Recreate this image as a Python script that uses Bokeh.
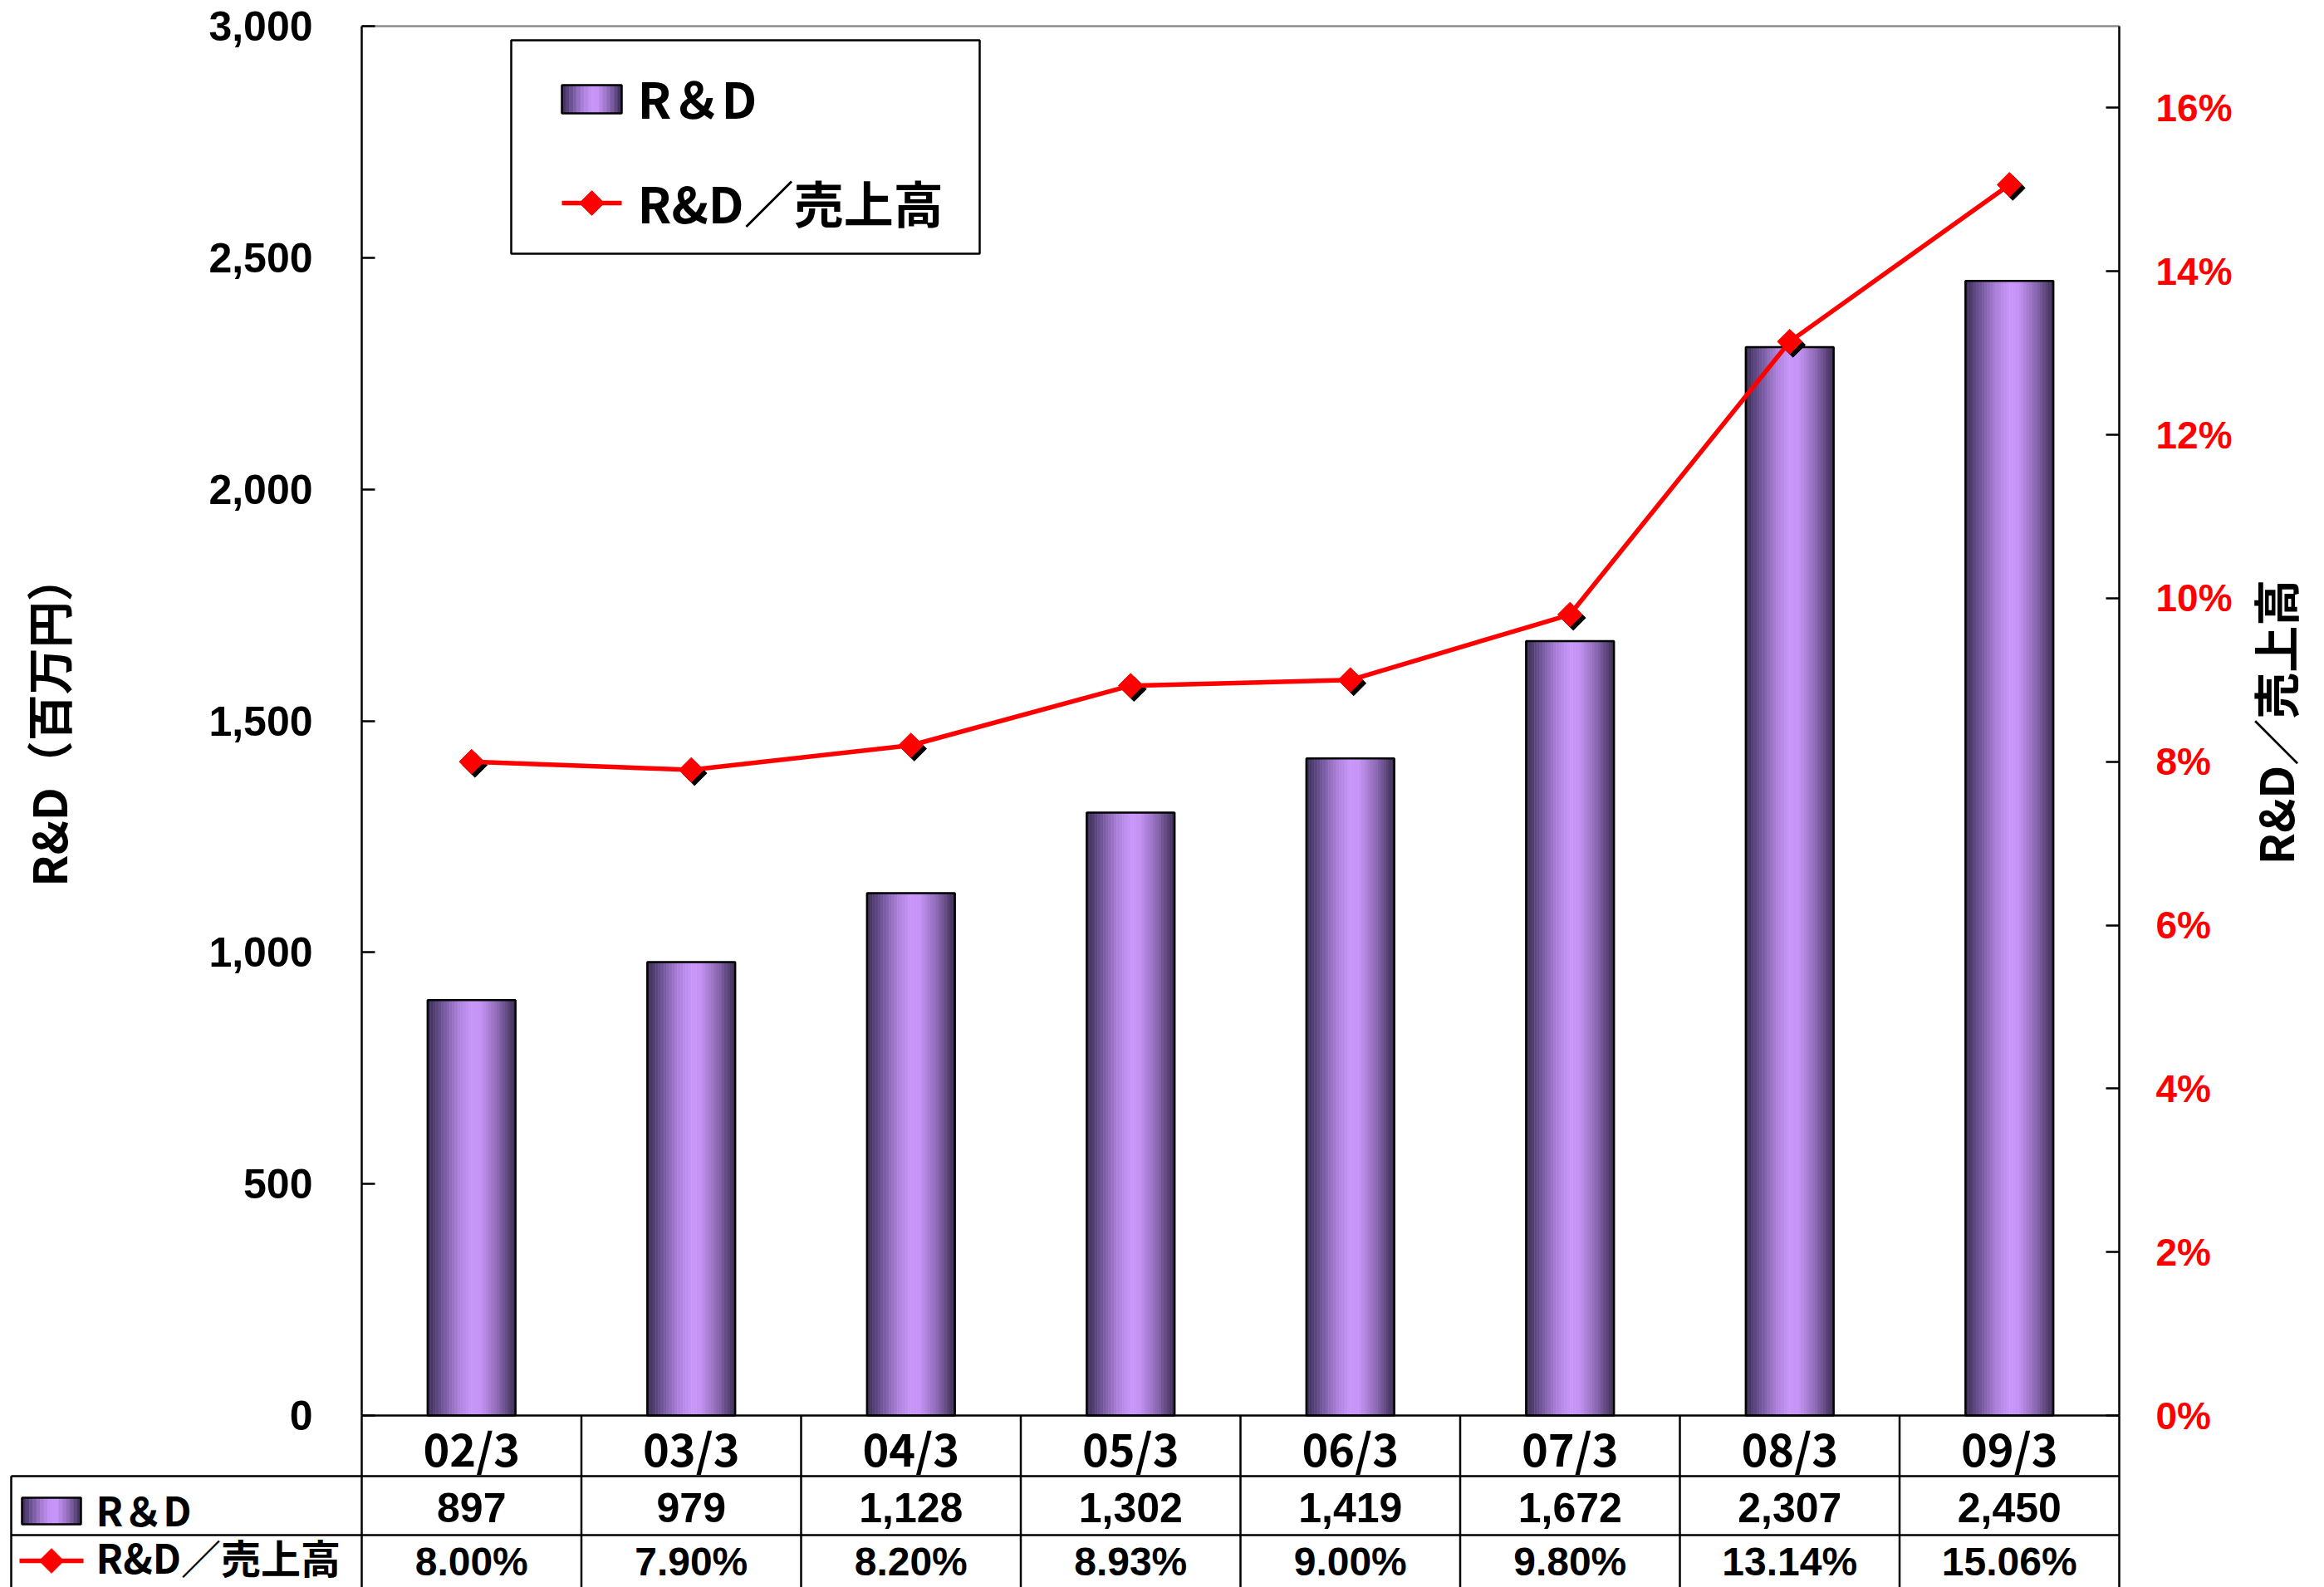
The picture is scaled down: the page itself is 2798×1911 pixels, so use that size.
import math
from bokeh.plotting import figure
from bokeh.models import Range1d, LinearAxis, FixedTicker, NumeralTickFormatter
from bokeh.core.properties import value
from bokeh.embed import file_html
from bokeh.resources import INLINE

# ---------------- data ----------------
categories = ["02/3", "03/3", "04/3", "05/3", "06/3", "07/3", "08/3", "09/3"]
rd_values = [897, 979, 1128, 1302, 1419, 1672, 2307, 2450]          # 百万円
rd_ratio_pct = [8.00, 7.90, 8.20, 8.93, 9.00, 9.80, 13.14, 15.06]   # %
left_ticks = [0, 500, 1000, 1500, 2000, 2500, 3000]
right_ticks_pct = [0, 2, 4, 6, 8, 10, 12, 14, 16]
legend_labels = ["R＆D", "R&D／売上高"]
table_row_labels = ["R＆D", "R&D／売上高"]
left_title = "R&D（百万円）"
right_title = "R&D／売上高"

# ---------------- layout (page pixels) ----------------
OFF = 0
FIG_W, FIG_H = 2798, 1911
AX_L, AX_R = 435, 2551
Y_BASE, Y_TOP = 1704, 31
LEFT_MAX, RIGHT_MAX = 3000.0, 0.17
TABLE_X0 = 13
ROW_Y = [1704, 1777, 1848, 1960]
N = len(categories)
COL_W = (AX_R - AX_L) / N
PX_PER_UNIT = (Y_BASE - Y_TOP) / LEFT_MAX


def xd(X):
    return (X - AX_L) / COL_W - 0.5


def yd(Y):
    return (Y_BASE - Y) / PX_PER_UNIT


K = RIGHT_MAX / LEFT_MAX

p = figure(width=FIG_W, height=FIG_H,
           x_range=Range1d(xd(OFF), xd(OFF + FIG_W)),
           y_range=Range1d(yd(OFF + FIG_H), yd(OFF)),
           output_backend="svg", toolbar_location=None,
           x_axis_location=None, y_axis_location=None,
           min_border=0, title=None)
p.outline_line_color = None
p.background_fill_color = "white"
p.border_fill_color = "white"
p.grid.grid_line_color = None
p.extra_y_ranges = {"pct": Range1d(yd(OFF + FIG_H) * K, yd(OFF) * K)}

# ---------------- gradient helper ----------------
stops = [(0.0, (58, 44, 82)), (0.15, (105, 80, 145)), (0.35, (172, 128, 218)),
         (0.5, (200, 150, 250)), (0.6, (198, 148, 246)), (0.8, (140, 104, 180)),
         (1.0, (58, 44, 82))]


def grad(t):
    for (t0, c0), (t1, c1) in zip(stops[:-1], stops[1:]):
        if t0 <= t <= t1:
            f = (t - t0) / (t1 - t0)
            c = [round(a + (b - a) * f) for a, b in zip(c0, c1)]
            return "#%02x%02x%02x" % tuple(c)
    return "#3a2c52"


NS = 32
strip_cols = [grad((k + 0.5) / NS) for k in range(NS)]

# ---------------- bars (gradient strips) ----------------
BW = 0.4
sx, stop_, scol = [], [], []
for i, v in enumerate(rd_values):
    for k in range(NS):
        sx.append(i - BW / 2 + (k + 0.5) * BW / NS)
        stop_.append(v)
        scol.append(strip_cols[k])
p.vbar(x=sx, top=stop_, bottom=0, width=BW / NS, fill_color=scol, line_color=scol, line_width=0.6)
p.vbar(x=list(range(N)), top=rd_values, bottom=0, width=BW, fill_color=None,
       line_color="black", line_width=2.5)

# ---------------- plot frame top ----------------
p.segment(x0=[-0.5], y0=[LEFT_MAX], x1=[N - 0.5], y1=[LEFT_MAX], line_color="#8c8c8c", line_width=2.5)

# ---------------- axes ----------------
left_axis = LinearAxis(fixed_location=-0.5, bounds=(0, LEFT_MAX),
                       ticker=FixedTicker(ticks=left_ticks),
                       formatter=NumeralTickFormatter(format="0,0"),
                       axis_label=left_title)
left_axis.major_tick_in = 16
left_axis.major_tick_out = 0
left_axis.minor_tick_line_color = None
left_axis.axis_line_width = 2.5
left_axis.major_tick_line_width = 2.5
left_axis.major_label_standoff = 59
left_axis.major_label_text_font = "Liberation Sans"
left_axis.major_label_text_font_style = "bold"
left_axis.major_label_text_font_size = "50px"
left_axis.major_label_text_color = "black"
left_axis.axis_label_text_font = "Noto Sans CJK JP"
left_axis.axis_label_text_font_style = "bold"
left_axis.axis_label_text_font_size = "56px"
left_axis.axis_label_text_color = "black"
left_axis.axis_label_standoff = 151
p.add_layout(left_axis, "left")

right_axis = LinearAxis(y_range_name="pct", fixed_location=N - 0.5, bounds=(0, RIGHT_MAX),
                        ticker=FixedTicker(ticks=[t / 100 for t in right_ticks_pct]),
                        formatter=NumeralTickFormatter(format="0%"))
right_axis.major_tick_in = 16
right_axis.major_tick_out = 0
right_axis.minor_tick_line_color = None
right_axis.axis_line_width = 2.5
right_axis.major_tick_line_width = 2.5
right_axis.major_label_standoff = 44
right_axis.major_label_text_font = "Liberation Sans"
right_axis.major_label_text_font_style = "bold"
right_axis.major_label_text_font_size = "46px"
right_axis.major_label_text_color = "#ff0000"
p.add_layout(right_axis, "right")

# right axis title (reads bottom-to-top like the reference)
p.text(x=[xd(2737)], y=[yd(869)], text=[right_title], angle=math.pi / 2,
       text_font=value("Noto Sans CJK JP"), text_font_style="bold", text_font_size="56px",
       text_align="center", text_baseline="middle", text_color="black")

# ---------------- ratio line ----------------
ratio = [r / 100 for r in rd_ratio_pct]
SH = 4  # shadow offset px
p.scatter(x=[i + SH / COL_W for i in range(N)], y=[r - SH / PX_PER_UNIT * K for r in ratio],
          y_range_name="pct", marker="square", angle=math.pi / 4, size=21,
          fill_color="black", line_color="black")
p.line(x=list(range(N)), y=ratio, y_range_name="pct", line_color="#ff0000", line_width=5.5)
p.scatter(x=list(range(N)), y=ratio, y_range_name="pct", marker="square", angle=math.pi / 4,
          size=21, fill_color="#ff0000", line_color="#ff0000")

# ---------------- data table ----------------
xl = xd(TABLE_X0)
hx0 = [-0.5, xl, xl]
hx1 = [N - 0.5, N - 0.5, N - 0.5]
hy = [yd(ROW_Y[0]), yd(ROW_Y[1]), yd(ROW_Y[2])]
p.segment(x0=hx0, y0=hy, x1=hx1, y1=hy, line_color="black", line_width=2.5)
vx = [b - 0.5 for b in range(N + 1)] + [xl]
vy0 = [yd(ROW_Y[0])] * (N + 1) + [yd(ROW_Y[1])]
vy1 = [yd(ROW_Y[3])] * (N + 2)
p.segment(x0=vx, y0=vy0, x1=vx, y1=vy1, line_color="black", line_width=2.5)

row_c = [yd(1742), yd(1815), yd(1880)]
p.text(x=list(range(N)), y=[row_c[0]] * N, text=categories,
       text_font=value("Noto Sans CJK JP"), text_font_style="bold", text_font_size="54px",
       text_align="center", text_baseline="middle", text_color="black")
p.text(x=list(range(N)), y=[row_c[1]] * N, text=[f"{v:,}" for v in rd_values],
       text_font=value("Liberation Sans"), text_font_style="bold", text_font_size="50px",
       text_align="center", text_baseline="middle", text_color="black")
p.text(x=list(range(N)), y=[row_c[2]] * N, text=[f"{r:.2f}%" for r in rd_ratio_pct],
       text_font=value("Liberation Sans"), text_font_style="bold", text_font_size="48px",
       text_align="center", text_baseline="middle", text_color="black")


def key_rect(X0, X1, Y0, Y1):
    ns = 16
    w = (xd(X1) - xd(X0)) / ns
    lefts = [xd(X0) + k * w for k in range(ns)]
    cols = [grad((k + 0.5) / ns) for k in range(ns)]
    p.quad(left=lefts, right=[l + w for l in lefts], top=[yd(Y0)] * ns, bottom=[yd(Y1)] * ns,
           fill_color=cols, line_color=cols, line_width=0.6)
    p.quad(left=[xd(X0)], right=[xd(X1)], top=[yd(Y0)], bottom=[yd(Y1)],
           fill_color=None, line_color="black", line_width=2.5)


def key_line(X0, X1, Y):
    p.segment(x0=[xd(X0)], y0=[yd(Y)], x1=[xd(X1)], y1=[yd(Y)], line_color="#ff0000", line_width=5.5)
    p.scatter(x=[xd((X0 + X1) / 2)], y=[yd(Y)], marker="square", angle=math.pi / 4, size=21,
              fill_color="#ff0000", line_color="#ff0000")


key_rect(26, 97, 1803, 1835)
key_line(23, 100, 1879)
p.text(x=[xd(115)] * 2, y=[yd(1816), yd(1873)], text=table_row_labels,
       text_font=value("Noto Sans CJK JP"), text_font_style="bold", text_font_size="48px",
       text_align="left", text_baseline="middle", text_color="black")

# ---------------- legend box ----------------
p.quad(left=[xd(615)], right=[xd(1179)], top=[yd(48)], bottom=[yd(305)],
       fill_color="white", line_color="black", line_width=2.5)
key_rect(676, 748, 102, 136)
key_line(676, 748, 244)
p.text(x=[xd(767)] * 2, y=[yd(116), yd(242)], text=legend_labels,
       text_font=value("Noto Sans CJK JP"), text_font_style="bold", text_font_size="60px",
       text_align="left", text_baseline="middle", text_color="black")

open("out.html", "w").write(file_html(p, INLINE))
